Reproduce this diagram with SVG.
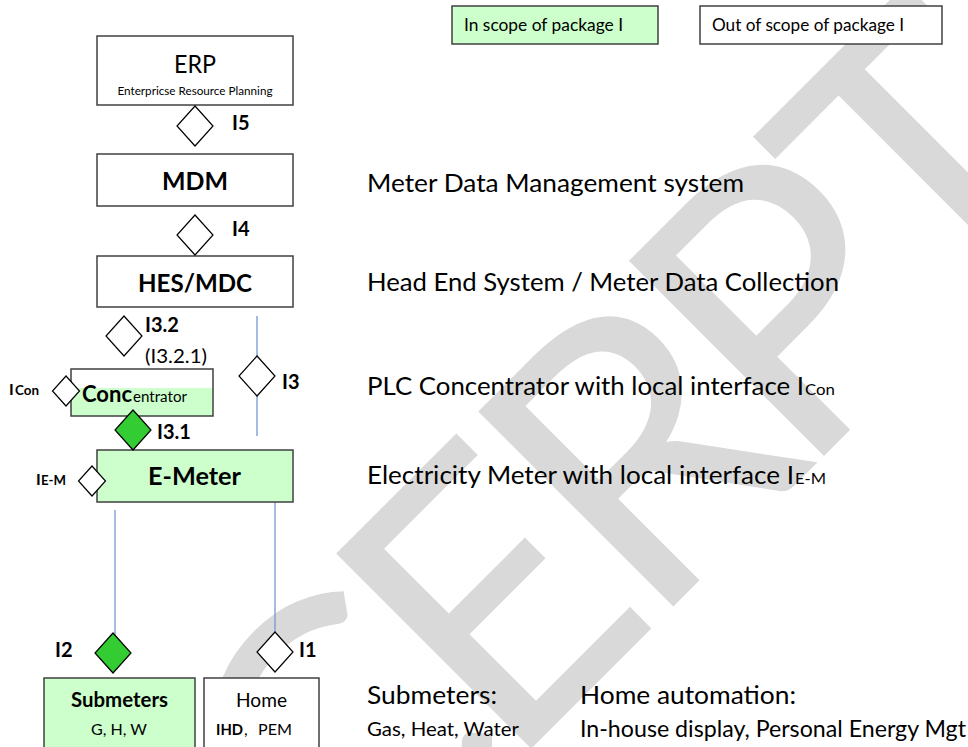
<svg xmlns="http://www.w3.org/2000/svg" width="968" height="747" viewBox="0 0 968 747">
<style>
  text { font-family: Lato, "Liberation Sans", sans-serif; fill: #000; }
  .box { fill: #fff; stroke: #404040; stroke-width: 1.5; }
  .in { fill: #ccffcc; stroke: #404040; stroke-width: 1.5; }
  .outline { fill: none; stroke: #404040; stroke-width: 1.5; }
  .dia { fill: #fff; stroke: #000; stroke-width: 1.2; }
  .gdia { fill: #33cc33; stroke: #000; stroke-width: 1.2; }
  .conn { stroke: #7397d4; stroke-width: 1.3; fill: none; }
  .lbl { font-weight: bold; font-size: 20px; }
  .desc { font-size: 25px; }
  .b { font-weight: bold; }
  .wm { fill: #d9d9d9; font-size: 385px; font-weight: normal; }
</style>
<rect width="968" height="747" fill="#fff"/>

<g id="watermark">
  <text class="wm" transform="rotate(-45)" x="-420 -189 12 225 430" y="905">CERPT</text>
</g>

<g id="legend">
  <rect class="in" x="452" y="6" width="206" height="38"/>
  <text x="464" y="31" font-size="17" textLength="159" lengthAdjust="spacingAndGlyphs">In scope of package I</text>
  <rect class="box" x="700" y="6" width="242" height="38"/>
  <text x="712" y="31" font-size="17" textLength="192" lengthAdjust="spacingAndGlyphs">Out of scope of package I</text>
</g>

<g id="connectors">
  <line class="conn" x1="257" y1="316" x2="257" y2="436"/>
  <line class="conn" x1="115" y1="510" x2="115" y2="640"/>
  <line class="conn" x1="275" y1="500" x2="275" y2="634"/>
</g>

<g id="erp">
  <rect class="box" x="97" y="36" width="196" height="69"/>
  <text x="195" y="73" font-size="24.5" text-anchor="middle" textLength="42" lengthAdjust="spacingAndGlyphs">ERP</text>
  <text x="195" y="95" font-size="11.3" text-anchor="middle" textLength="155" lengthAdjust="spacingAndGlyphs">Enterpricse Resource Planning</text>
</g>

<g id="mdm">
  <rect class="box" x="97" y="154" width="196" height="52"/>
  <text class="b" x="195" y="190" font-size="25" text-anchor="middle" textLength="66" lengthAdjust="spacingAndGlyphs">MDM</text>
</g>

<g id="hes">
  <rect class="box" x="97" y="256" width="196" height="51"/>
  <text class="b" x="195" y="292" font-size="25" text-anchor="middle" textLength="114" lengthAdjust="spacingAndGlyphs">HES/MDC</text>
</g>

<g id="concentrator">
  <rect x="71" y="369" width="142" height="47" fill="#fff"/>
  <rect x="71" y="388" width="142" height="28" fill="#ccffcc"/>
  <rect class="outline" x="71" y="369" width="142" height="47"/>
  <text class="b" x="82" y="402" font-size="23" textLength="50" lengthAdjust="spacingAndGlyphs">Conc</text>
  <text x="133" y="402" font-size="14.5" textLength="54" lengthAdjust="spacingAndGlyphs">entrator</text>
</g>

<g id="emeter">
  <rect class="in" x="97" y="450" width="196" height="52"/>
  <text class="b" x="194.5" y="485" font-size="25" text-anchor="middle" textLength="93" lengthAdjust="spacingAndGlyphs">E-Meter</text>
</g>

<g id="submeters">
  <rect class="in" x="44" y="678" width="151" height="70"/>
  <text class="b" x="119.5" y="707" font-size="20" text-anchor="middle" textLength="97" lengthAdjust="spacingAndGlyphs">Submeters</text>
  <text x="119" y="735" font-size="16" text-anchor="middle" textLength="56" lengthAdjust="spacingAndGlyphs">G, H, W</text>
</g>

<g id="home">
  <rect class="box" x="204" y="678" width="115" height="70"/>
  <text x="261.5" y="707" font-size="19.5" text-anchor="middle" textLength="51" lengthAdjust="spacingAndGlyphs">Home</text>
  <text class="b" x="216" y="735" font-size="16" textLength="27" lengthAdjust="spacingAndGlyphs">IHD</text>
  <text x="244" y="735" font-size="16">,</text>
  <text x="258" y="735" font-size="16" textLength="34" lengthAdjust="spacingAndGlyphs">PEM</text>
</g>

<g id="if-I5">
  <polygon class="dia" points="195,106 213,126 195,146 177,126"/>
  <text class="lbl" x="232" y="130">I5</text>
</g>
<g id="if-I4">
  <polygon class="dia" points="195,215 213,235 195,255 177,235"/>
  <text class="lbl" x="232" y="236">I4</text>
</g>
<g id="if-I3-2">
  <polygon class="dia" points="124,316 142,336 124,356 106,336"/>
  <text class="lbl" x="145" y="332">I3.2</text>
  <text x="145" y="363" font-size="19.5" textLength="62" lengthAdjust="spacingAndGlyphs">(I3.2.1)</text>
</g>
<g id="if-I3">
  <polygon class="dia" points="257,356 275,376 257,396 239,376"/>
  <text class="lbl" x="282" y="389">I3</text>
</g>
<g id="if-ICon">
  <polygon class="dia" points="66,376 79.5,391 66,406 52.5,391"/>
  <text class="b" x="9" y="395" font-size="16">I</text>
  <text class="b" x="15" y="395" font-size="13.5" textLength="24" lengthAdjust="spacingAndGlyphs">Con</text>
</g>
<g id="if-I3-1">
  <polygon class="gdia" points="133,410 151,430 133,450 115,430"/>
  <text class="lbl" x="157" y="439">I3.1</text>
</g>
<g id="if-IEM">
  <polygon class="dia" points="92,466 105.5,481 92,496 78.5,481"/>
  <text class="b" x="36" y="485" font-size="16">I</text>
  <text class="b" x="41" y="485" font-size="13.5" textLength="25" lengthAdjust="spacingAndGlyphs">E-M</text>
</g>
<g id="if-I2">
  <polygon class="gdia" points="113,633 131,653 113,673 95,653"/>
  <text class="lbl" x="55" y="657">I2</text>
</g>
<g id="if-I1">
  <polygon class="dia" points="275,632 293,652 275,672 257,652"/>
  <text class="lbl" x="299" y="657">I1</text>
</g>

<g id="descriptions">
  <text class="desc" x="367" y="192" textLength="377" lengthAdjust="spacingAndGlyphs">Meter Data Management system</text>
  <text class="desc" x="367" y="291" textLength="472" lengthAdjust="spacingAndGlyphs">Head End System / Meter Data Collection</text>
  <text class="desc" x="367" y="395" textLength="437" lengthAdjust="spacingAndGlyphs">PLC Concentrator with local interface I</text>
  <text x="805" y="395" font-size="16" textLength="30" lengthAdjust="spacingAndGlyphs">Con</text>
  <text class="desc" x="367" y="484" textLength="427" lengthAdjust="spacingAndGlyphs">Electricity Meter with local interface I</text>
  <text x="795" y="484" font-size="16" textLength="31" lengthAdjust="spacingAndGlyphs">E-M</text>
  <text class="desc" x="367" y="704" textLength="130" lengthAdjust="spacingAndGlyphs">Submeters:</text>
  <text x="367" y="736" font-size="20" textLength="152" lengthAdjust="spacingAndGlyphs">Gas, Heat, Water</text>
  <text class="desc" x="580" y="704" textLength="216" lengthAdjust="spacingAndGlyphs">Home automation:</text>
  <text x="580" y="737" font-size="22.5" textLength="386" lengthAdjust="spacingAndGlyphs">In-house display, Personal Energy Mgt</text>
</g>
</svg>
